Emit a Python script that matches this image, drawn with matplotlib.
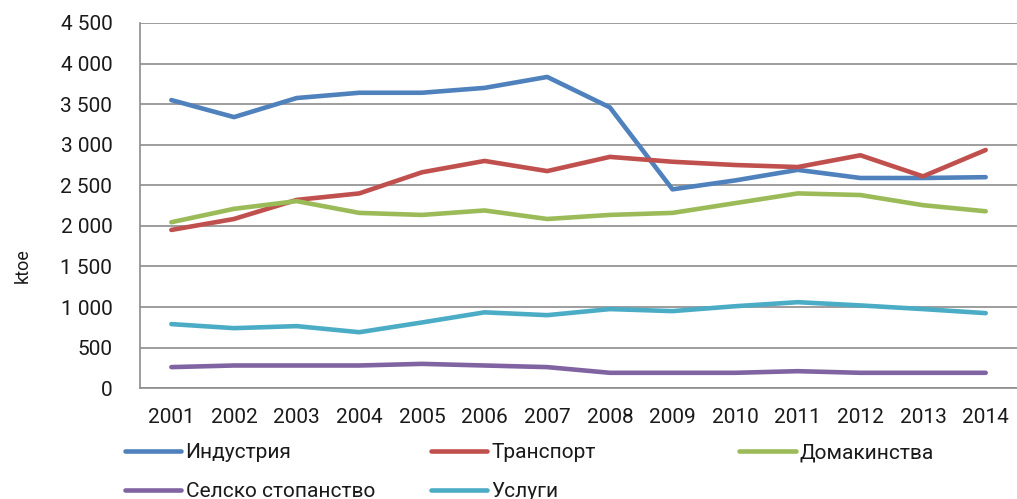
import matplotlib.pyplot as plt
from matplotlib.ticker import FuncFormatter, MultipleLocator

years = ['2001', '2002', '2003', '2004', '2005', '2006', '2007',
         '2008', '2009', '2010', '2011', '2012', '2013', '2014']

industry = [3550, 3340, 3575, 3640, 3640, 3700, 3835, 3460, 2450, 2560, 2690, 2590, 2590, 2600]
transport = [1950, 2085, 2320, 2400, 2660, 2800, 2675, 2850, 2790, 2750, 2725, 2870, 2610, 2935]
households = [2045, 2210, 2305, 2160, 2135, 2190, 2085, 2135, 2160, 2280, 2400, 2380, 2255, 2180]
agriculture = [260, 280, 280, 280, 300, 280, 260, 190, 190, 190, 210, 190, 190, 190]
services = [790, 740, 765, 690, 810, 935, 900, 975, 950, 1010, 1060, 1020, 975, 925]

names = ['Индустрия', 'Транспорт', 'Домакинства', 'Селско стопанство', 'Услуги']
colors = ['#4F81BD', '#C0504D', '#9BBB59', '#8064A2', '#4BACC6']
series = [industry, transport, households, agriculture, services]

plt.rcParams['font.family'] = ['Roboto', 'DejaVu Sans']

fig = plt.figure(figsize=(10.17, 4.99), dpi=100)
ax = fig.add_axes([0.1377, 0.222, 0.8623, 0.732])

lines = []
for vals, name, c in zip(series, names, colors):
    ln, = ax.plot(range(len(years)), vals, color=c, lw=3.3, label=name,
                  solid_capstyle='round', solid_joinstyle='round')
    lines.append(ln)

ax.set_xlim(-0.5, 13.5)
ax.set_ylim(0, 4500)
ax.yaxis.set_major_locator(MultipleLocator(500))
ax.yaxis.set_major_formatter(FuncFormatter(lambda v, p: '{:,.0f}'.format(v).replace(',', ' ')))
ax.set_xticks(range(len(years)))
ax.set_xticklabels(years)
ax.tick_params(axis='both', length=0, labelsize=15, colors='#1a1a1a')
ax.tick_params(axis='y', pad=20)
ax.tick_params(axis='x', pad=14)
ax.grid(axis='y', color='#8c8c8c', lw=1.2)
ax.set_axisbelow(True)
for s in ['top', 'right']:
    ax.spines[s].set_visible(False)
for s in ['left', 'bottom']:
    ax.spines[s].set_color('#8c8c8c')
    ax.spines[s].set_linewidth(1.2)
ax.set_ylabel('ktoe', fontsize=13, color='#1a1a1a')
ax.yaxis.set_label_coords(-0.124, 0.337)

# legend, laid out in three columns like the original
cols = [([lines[0], lines[3]], 0.123), ([lines[1], lines[4]], 0.424), ([lines[2]], 0.727)]
for hs, x in cols:
    fig.legend(hs, [h.get_label() for h in hs], loc='upper left',
               bbox_to_anchor=(x, 0.112), frameon=False, fontsize=15,
               handlelength=2.7, handletextpad=0.2, labelspacing=0.95,
               borderaxespad=0, borderpad=0, labelcolor='#1a1a1a')

fig.savefig('out.png', dpi=100)
